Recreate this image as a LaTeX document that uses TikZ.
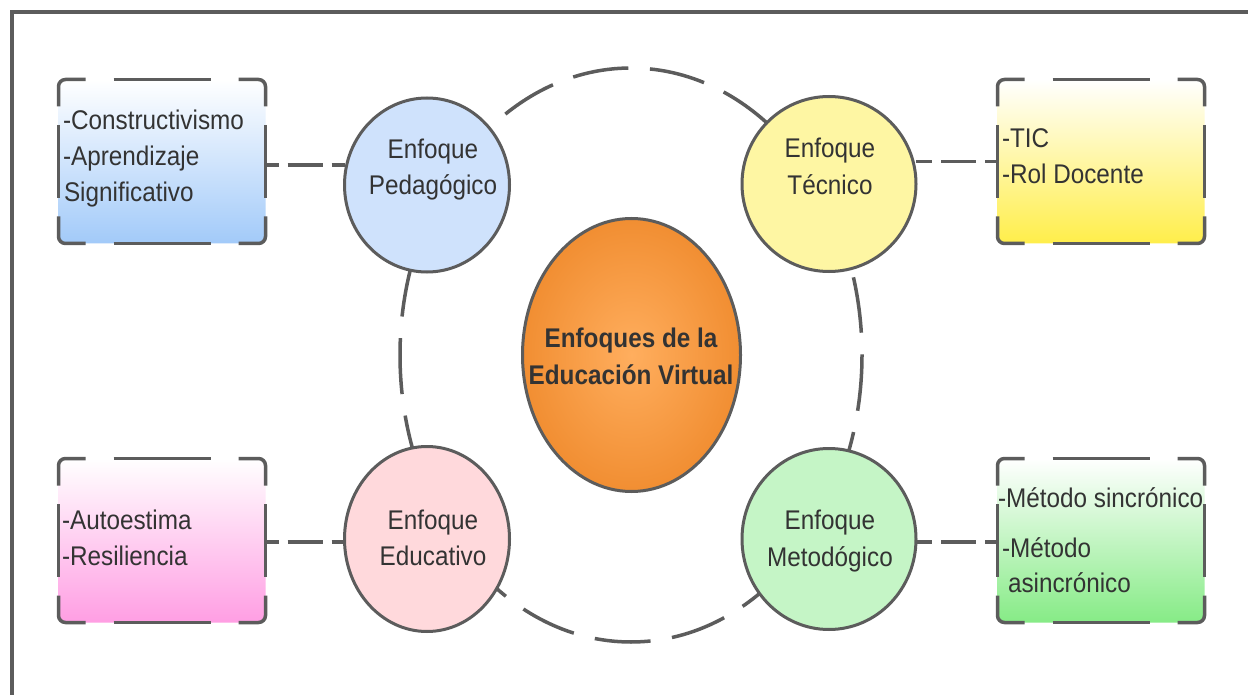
\documentclass[tikz,border=0pt]{standalone}
\usepackage{fontspec}
\setmainfont[FakeStretch=0.9]{Liberation Sans}
\usetikzlibrary{shapes.geometric,calc}
\definecolor{edgec}{HTML}{5C5C5C}
\definecolor{txtc}{HTML}{333333}
\definecolor{pedfill}{HTML}{CFE2FC}
\definecolor{tecfill}{HTML}{FEF6A3}
\definecolor{edufill}{HTML}{FFD9DC}
\definecolor{metfill}{HTML}{C5F5C6}
\definecolor{bluebox}{HTML}{A2CAF9}
\definecolor{yelbox}{HTML}{FFEE4A}
\definecolor{pinkbox}{HTML}{FF9EE3}
\definecolor{greenbox}{HTML}{86EB86}
\definecolor{orin}{HTML}{FFAE5E}
\definecolor{orout}{HTML}{E36E06}
\pgfdeclareradialshading{orangeglow}{\pgfpoint{0bp}{0bp}}{color(0bp)=(orin); color(50bp)=(orout); color(75bp)=(orout)}
\newcommand\dashframe[1]{%
  \draw[boxedge, rounded corners=7pt] ([xshift=27pt]#1.north west) -- (#1.north west) -- ([yshift=-27pt]#1.north west);
  \draw[boxedge, rounded corners=7pt] ([xshift=-27pt]#1.north east) -- (#1.north east) -- ([yshift=-27pt]#1.north east);
  \draw[boxedge, rounded corners=7pt] ([xshift=27pt]#1.south west) -- (#1.south west) -- ([yshift=27pt]#1.south west);
  \draw[boxedge, rounded corners=7pt] ([xshift=-27pt]#1.south east) -- (#1.south east) -- ([yshift=27pt]#1.south east);
  \draw[boxedge] ([xshift=-48.5pt]#1.north) -- ([xshift=48.5pt]#1.north);
  \draw[boxedge] ([xshift=-48.5pt]#1.south) -- ([xshift=48.5pt]#1.south);
  \draw[boxedge] ([yshift=36.5pt]#1.west) -- ([yshift=-36.5pt]#1.west);
  \draw[boxedge] ([yshift=36.5pt]#1.east) -- ([yshift=-36.5pt]#1.east);
}
\begin{document}
\begin{tikzpicture}[x=1pt,y=-1pt,
  every node/.style={inner sep=0pt, outer sep=0pt},
  frameline/.style={draw=edgec, line width=4pt},
  ring/.style={draw=edgec, line width=3.5pt, dash pattern=on 56pt off 21.7pt},
  conn/.style={draw=edgec, line width=3.5pt, dash pattern=on 35pt off 9pt, dash phase=22pt},
  bubble/.style={ellipse, draw=edgec, line width=3pt},
  core/.style={ellipse, draw=edgec, line width=3pt, minimum width=218pt, minimum height=273pt, shading=orangeglow},
  boxfill/.style={rectangle, rounded corners=7pt, minimum width=207pt, minimum height=164pt, top color=white},
  boxedge/.style={draw=edgec, line width=3.5pt},
  ctext/.style={font=\fontsize{27}{36}\selectfont, text=txtc, anchor=base},
  btext/.style={font=\fontsize{27}{36}\selectfont, text=txtc, anchor=base west},
  coretext/.style={font=\bfseries\fontsize{27}{36}\selectfont, text=txtc, anchor=base},
]
\path[use as bounding box] (0,0) rectangle (1248,695);
\fill[white] (0,0) rectangle (1248,695);
\draw[frameline] (11.5,695) -- (11.5,12) -- (1248,12);

% dashed ring
\draw[ring] (631,355) ellipse [x radius=231, y radius=287];

% boxes (fills)
\node[boxfill, bottom color=bluebox] (b1) at (162,161.5) {};
\node[boxfill, bottom color=yelbox] (b2) at (1101,161.5) {};
\node[boxfill, bottom color=pinkbox] (b3) at (162,540.5) {};
\node[boxfill, bottom color=greenbox] (b4) at (1101,540.5) {};

% circles
\node[bubble, fill=pedfill, minimum width=165pt, minimum height=174pt] (c1) at (427,185) {};
\node[bubble, fill=tecfill, minimum width=174pt, minimum height=175pt] (c2) at (829,184) {};
\node[bubble, fill=edufill, minimum width=165pt, minimum height=185pt] (c3) at (427,539) {};
\node[bubble, fill=metfill, minimum width=174pt, minimum height=181pt] (c4) at (829,539) {};

% connectors
\begin{scope}[on background layer/.style={}]
\end{scope}
\draw[conn] (b1.east) ++(0,3.5) coordinate (s1) -- (s1 -| c1.west);
\draw[conn] (b2.west) coordinate (s2) -- (s2 -| c2.east);
\draw[conn] (b3.east) ++(0,1.5) coordinate (s3) -- (s3 -| c3.west);
\draw[conn] (b4.west) ++(0,1.5) coordinate (s4) -- (s4 -| c4.east);

\dashframe{b1}
\dashframe{b2}
\dashframe{b3}
\dashframe{b4}

% center
\node[core] (core) at (631.5,355) {};
\node[coretext] (k1) at (631,347) {Enfoques de la};
\node[coretext] (k2) at (631,384) {Educación Virtual};

% circle texts
\node[ctext] (p1) at (433,159) {Enfoque};
\node[ctext] (p2) at (433,195) {Pedagógico};
\node[ctext] (q1) at (830,158) {Enfoque};
\node[ctext] (q2) at (830,195) {Técnico};
\node[ctext] (e1) at (433,529) {Enfoque};
\node[ctext] (e2) at (433,565) {Educativo};
\node[ctext] (m1) at (830,529) {Enfoque};
\node[ctext] (m2) at (830,566) {Metodógico};

% box texts
\node[btext] (t1) at (63,130) {-Constructivismo};
\node[btext] (t2) at (63,166) {-Aprendizaje};
\node[btext] (t3) at (64,202) {Significativo};
\node[btext] (u1) at (1002,148) {-TIC};
\node[btext] (u2) at (1002,184) {-Rol Docente};
\node[btext] (v1) at (62,529) {-Autoestima};
\node[btext] (v2) at (62,565) {-Resiliencia};
\node[btext] (w1) at (998,507) {-Método sincrónico};
\node[btext] (w2) at (1002,557) {-Método};
\node[btext] (w3) at (1008,592) {asincrónico};
\end{tikzpicture}
\end{document}
